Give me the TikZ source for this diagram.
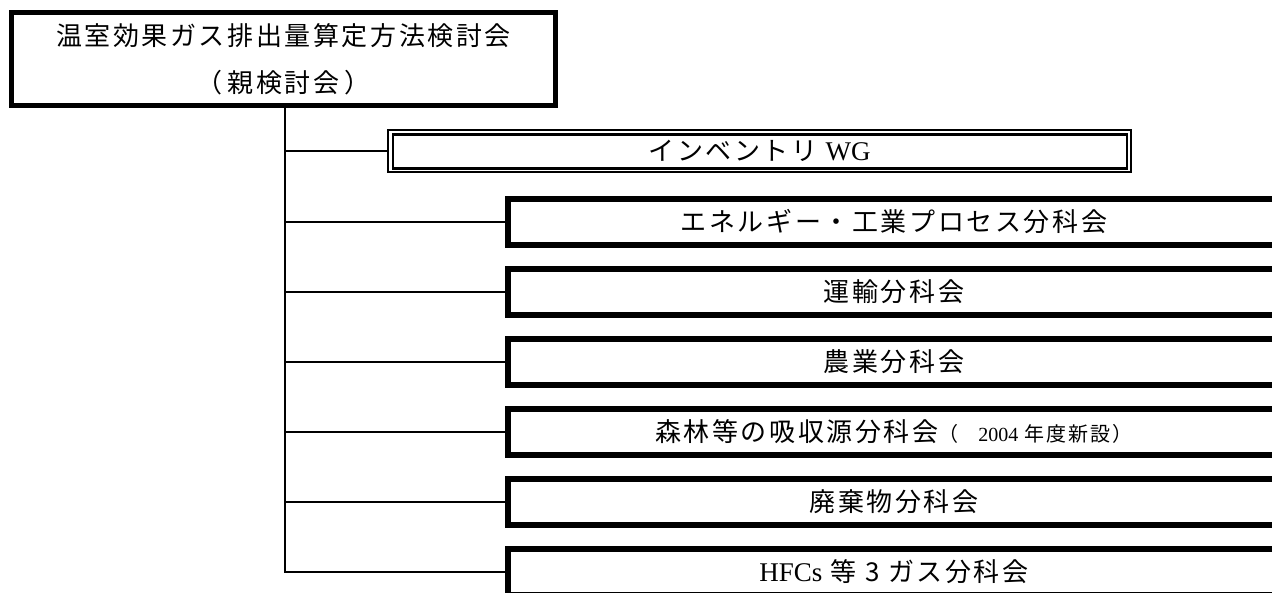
\documentclass[tikz,border=0pt]{standalone}
\usepackage{fontspec}
\setmainfont{Liberation Serif}
\newfontfamily\jp[LetterSpace=10]{Noto Sans CJK JP}
\begin{document}
\begin{tikzpicture}[x=1pt,y=-1pt]
\tikzset{
 jpbig/.style={font=\jp\fontsize{26}{47}\selectfont},
 parentbox/.style={draw, line width=5pt, minimum width=544pt, minimum height=93pt, inner sep=0pt, outer sep=0pt, align=center, jpbig},
 wgouter/.style={draw, line width=1.8pt, minimum width=743pt, minimum height=42pt, inner sep=0pt, outer sep=0pt, jpbig},
 subbox/.style={draw, line width=5.5pt, minimum width=772pt, minimum height=46pt, inner sep=0pt, outer sep=0pt, jpbig},
 link/.style={line width=2.8pt}
}
\useasboundingbox (0,0) rectangle (1272,592);
\clip (0,0) rectangle (1272,592);
\node[parentbox] (parent) at (283.5,59) {温室効果ガス排出量算定方法検討会\\（\hspace{5pt}親検討会\hspace{5pt}）};
\node[wgouter] (wg) at (759.5,151) {インベントリ\hspace{8pt}{\rmfamily\fontsize{27}{28}\selectfont WG}};
\draw[line width=2.5pt] ([shift={(5,4.5)}]wg.north west) rectangle ([shift={(-4,-3.5)}]wg.south east);
\node[subbox] (b1) at (894,222) {エネルギー・工業プロセス分科会};
\node[subbox] (b2) at (894,292) {運輸分科会};
\node[subbox] (b3) at (894,362) {農業分科会};
\node[subbox] (b4) at (894,432) {森林等の吸収源分科会{\fontsize{20}{22}\selectfont （\hspace{20pt}{\rmfamily 2004} 年度新設）}};
\node[subbox] (b5) at (894,502) {廃棄物分科会};
\node[subbox] (b6) at (894,572) {{\rmfamily\fontsize{27}{28}\selectfont HFCs} 等 3 ガス分科会};
\coordinate (top) at (285,105.5);
\draw[link] (top) -- (top |- b6.west) -- (b6.west);
\draw[link] (top |- wg.west) -- (wg.west);
\foreach \b in {b1,b2,b3,b4,b5}{\draw[link] (top |- \b.west) -- (\b.west);}
\end{tikzpicture}
\end{document}
